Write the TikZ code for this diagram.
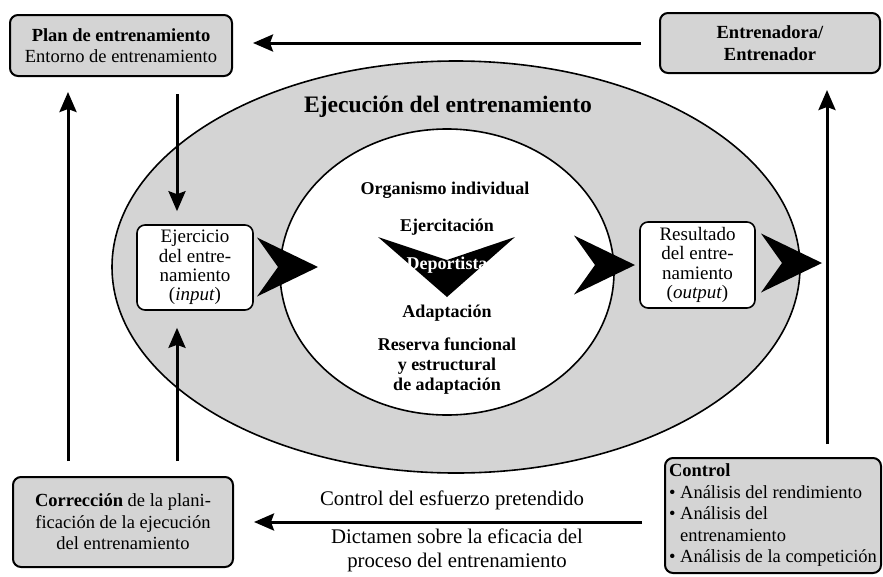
\documentclass[tikz,border=0pt]{standalone}
\usepackage{fontspec}
\setmainfont{Liberation Serif}
\usetikzlibrary{arrows.meta}
\definecolor{panel}{HTML}{D4D4D4}
\begin{document}
\begin{tikzpicture}[x=1pt,y=-1pt,
  graybox/.style={draw, line width=2pt, rounded corners=8pt, fill=panel,
    inner sep=0pt, align=center, font=\fontsize{18.5}{21.5}\selectfont},
  whitebox/.style={draw, line width=1.6pt, rounded corners=8pt, fill=white,
    inner sep=0pt, align=center, font=\fontsize{19}{19.2}\selectfont},
  flow/.style={line width=3pt, -{Stealth[length=20pt,width=17pt,inset=3pt]}},
  innertext/.style={font=\fontsize{18}{20}\selectfont\bfseries, align=center},
  labeltext/.style={font=\fontsize{20.8}{24}\selectfont, align=center},
  chevron/.pic={\fill[black] (-61,-29.5) -- (0,0) -- (-61,29.5) -- (-40,0) -- cycle;}
]
\useasboundingbox (0,0) rectangle (883,576);

% training execution: outer ring and inner organism
\draw[line width=1.6pt, fill=panel] (456,267) ellipse [x radius=344, y radius=206];
\draw[line width=1.6pt, fill=white] (447,272) ellipse [x radius=167, y radius=143];

\node[font=\fontsize{23.6}{26}\selectfont\bfseries] (exec) at (448,107) {Ejecución del entrenamiento};

% big flow chevrons
\pic at (318,267) {chevron};
\pic at (635,265) {chevron};
\pic at (822,263) {chevron};
\fill[black] (378,237) -- (447,260) -- (515,237) -- (447,297) -- cycle;

% texts inside the organism
\node[innertext] (org) at (445,190) {Organismo individual};
\node[innertext] (ejc) at (447,227) {Ejercitación};
\node[innertext, text=white] (dep) at (447,265) {Deportista};
\node[innertext] (adp) at (447,313) {Adaptación};
\node[innertext] (res) at (447,366) {Reserva funcional\\y estructural\\de adaptación};

% boxes
\node[graybox, minimum width=222pt, minimum height=61pt] (plan) at (121,45.5)
  {\textbf{Plan de entrenamiento}\\Entorno de entrenamiento};
\node[graybox, minimum width=220pt, minimum height=60pt] (coach) at (770,43)
  {\textbf{Entrenadora/}\\\textbf{Entrenador}};
\node[graybox, minimum width=220pt, minimum height=90pt] (corr) at (123,522)
  {\textbf{Corrección} de la plani-\\ficación de la ejecución\\del entrenamiento};
\node[graybox, minimum width=216pt, minimum height=115pt, align=left] (ctrl) at (773,515.5)
  {\textbf{Control}\\• Análisis del rendimiento\\• Análisis del\\\hphantom{• }entrenamiento\\• Análisis de la competición};
\node[whitebox, minimum width=116pt, minimum height=85pt] (input) at (195,267.5)
  {Ejercicio\\del entre-\\namiento\\(\textit{input})};
\node[whitebox, minimum width=115pt, minimum height=86pt] (output) at (697.5,265)
  {Resultado\\del entre-\\namiento\\(\textit{output})};

% columns of the vertical connectors
\coordinate (colA) at (68,0);
\coordinate (colB) at (177,0);
\coordinate (colC) at (827,0);

% connectors
\draw[flow, shorten <=18pt, shorten >=20pt] (coach.west) -- (coach.west -| plan.east);
\draw[flow, shorten <=17pt, shorten >=13pt] (plan.south -| colB) -- (input.north -| colB);
\draw[flow, shorten <=15pt, shorten >=17pt] (corr.north -| colB) -- (input.south -| colB);
\draw[flow, shorten <=15pt, shorten >=15pt] (corr.north -| colA) -- (plan.south -| colA);
\draw[flow, shorten <=13pt, shorten >=16pt] (ctrl.north -| colC) -- (coach.south -| colC);
\draw[flow, shorten <=22pt, shorten >=20pt] (ctrl.west |- corr.east) -- (corr.east);

% labels of the feedback connector
\node[labeltext] (effort) at (452,500) {Control del esfuerzo pretendido};
\node[labeltext] (verdict) at (457,550)
  {Dictamen sobre la eficacia del\\proceso del entrenamiento};
\end{tikzpicture}
\end{document}
